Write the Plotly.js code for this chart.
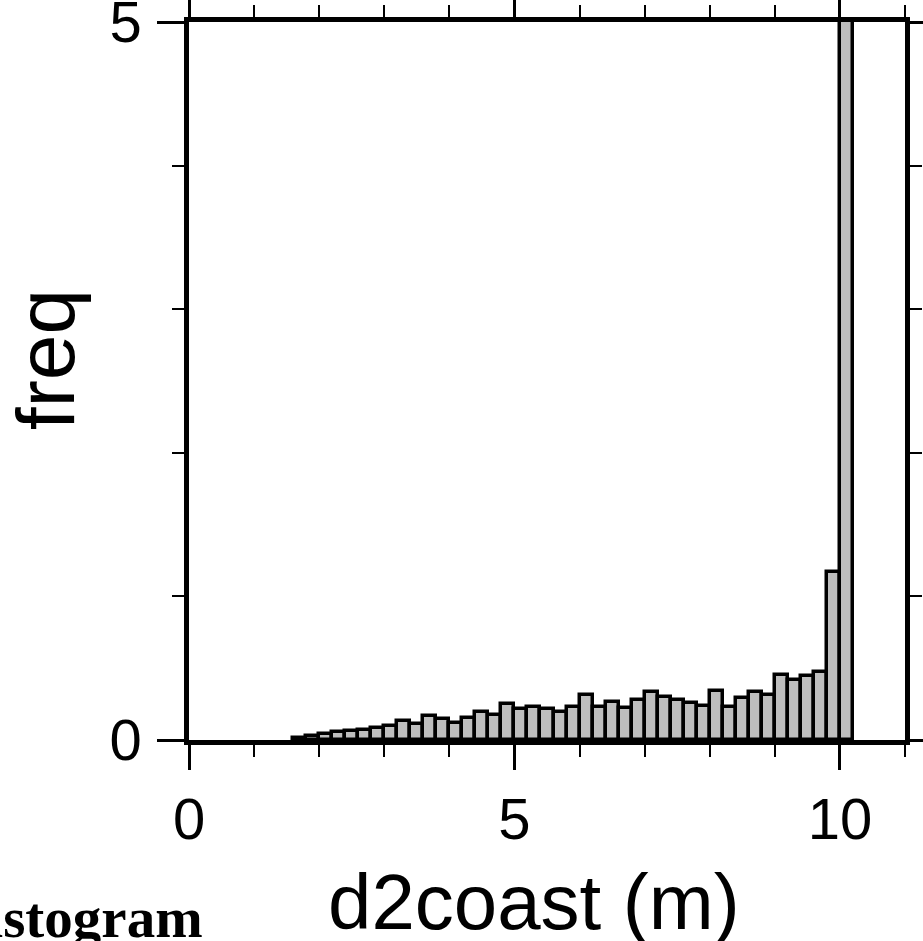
<!DOCTYPE html>
<html>
<head>
<meta charset="utf-8">
<script src="https://cdn.plot.ly/plotly-3.0.1.min.js"></script>
<style>
html,body{margin:0;padding:0;background:#fff;}
#chart{width:923px;height:941px;}
</style>
</head>
<body>
<div id="chart"></div>
<script>
// Histogram bins: first bin centre and bin width (d2coast, m)
var binStart = 1.7;
var binWidth = 0.2;
// Frequencies for consecutive bins 1.6-1.8 ... 10.0-10.2
var freq = [0.015, 0.025, 0.04, 0.054, 0.065, 0.07, 0.086, 0.10, 0.13, 0.11,
            0.17, 0.144, 0.12, 0.155, 0.195, 0.176, 0.25, 0.216, 0.232, 0.216,
            0.193, 0.232, 0.311, 0.228, 0.267, 0.225, 0.278, 0.332, 0.30, 0.278,
            0.26, 0.237, 0.343, 0.228, 0.29, 0.334, 0.311, 0.45, 0.418, 0.446,
            0.474, 1.17, 6.0];
var xTickVals = [0, 5, 10];
var xTickText = ['0', '5', '10'];
var yTickVals = [0, 5];
var yTickText = ['0', '5'];
var xTitle = 'd2coast (m)';
var yTitle = 'freq';
var chartTitle = 'Histogram';

var font = '"Liberation Sans", Arial, Helvetica, sans-serif';

var trace = {
  type: 'bar',
  x0: binStart,
  dx: binWidth,
  y: freq,
  width: binWidth,
  marker: {color: '#bebebe', line: {color: '#000000', width: 3.5}},
  hoverinfo: 'x+y'
};

var layout = {
  width: 923,
  height: 941,
  margin: {l: 189, r: 17.5, t: 22, b: 201, pad: 0},
  paper_bgcolor: '#ffffff',
  plot_bgcolor: '#ffffff',
  showlegend: false,
  bargap: 0,
  xaxis: {
    range: [0, 11],
    tickmode: 'array', tickvals: xTickVals, ticktext: xTickText,
    ticks: 'outside', ticklen: 25, tickwidth: 2.5, tickcolor: '#000',
    minor: {dtick: 1, tick0: 0, ticks: 'outside', ticklen: 12, tickwidth: 2, tickcolor: '#000', showgrid: false},
    showline: true, linecolor: '#000', linewidth: 4.5, mirror: 'ticks',
    showgrid: false, zeroline: false,
    ticklabeloverflow: 'allow',
    tickfont: {family: font, size: 58, color: '#000'}
  },
  yaxis: {
    range: [0, 5],
    tickmode: 'array', tickvals: yTickVals, ticktext: yTickText,
    ticks: 'outside', ticklen: 27, tickwidth: 2.5, tickcolor: '#000',
    minor: {dtick: 1, tick0: 0, ticks: 'outside', ticklen: 12, tickwidth: 2, tickcolor: '#000', showgrid: false},
    showline: true, linecolor: '#000', linewidth: 4.5, mirror: 'ticks',
    showgrid: false, zeroline: false,
    ticklabeloverflow: 'allow',
    ticklabelstandoff: 4,
    tickfont: {family: font, size: 58, color: '#000'}
  },
  annotations: [
    {
      text: xTitle,
      xref: 'paper', yref: 'paper',
      x: 0.4815, y: -0.225,
      xanchor: 'center', yanchor: 'middle',
      showarrow: false,
      font: {family: font, size: 78, color: '#000'}
    },
    {
      text: yTitle,
      xref: 'paper', yref: 'paper',
      x: -0.201, y: 0.529,
      xanchor: 'center', yanchor: 'middle',
      textangle: -90,
      showarrow: false,
      font: {family: font, size: 82, color: '#000'}
    },
    {
      text: '<b>' + chartTitle + '</b>',
      xref: 'paper', yref: 'paper',
      x: 0.0223, y: -0.294,
      xanchor: 'right', yanchor: 'bottom',
      showarrow: false,
      font: {family: '"Liberation Serif", "Times New Roman", serif', size: 57, color: '#000'}
    }
  ]
};

Plotly.newPlot('chart', [trace], layout, {displayModeBar: false});
</script>
</body>
</html>
